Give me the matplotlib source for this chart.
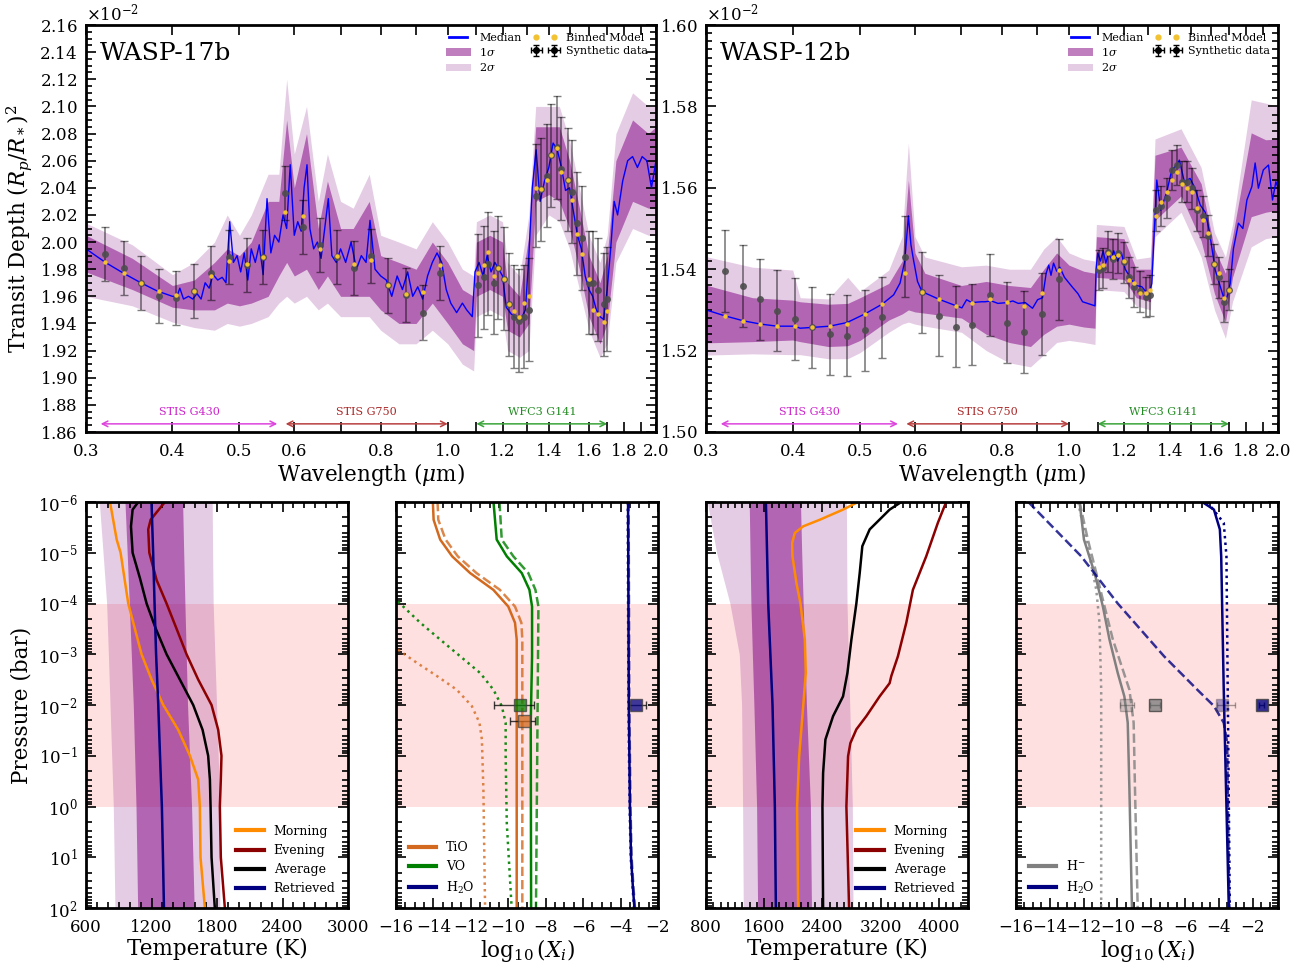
import numpy as np
import matplotlib
matplotlib.use("Agg")
import matplotlib.pyplot as plt
from matplotlib.ticker import (FixedLocator, FixedFormatter, MultipleLocator,
                               ScalarFormatter, NullFormatter)
from matplotlib.lines import Line2D
from matplotlib.patches import Patch

plt.rcParams['font.family'] = ['DejaVu Serif']
plt.rcParams['mathtext.fontset'] = 'dejavuserif'
plt.rcParams['xtick.direction'] = 'in'
plt.rcParams['ytick.direction'] = 'in'

# ---------------- WASP-17b spectrum (transit depth in units of 1e-2) ----------------
w17_wl = [0.300, 0.320, 0.340, 0.360, 0.380, 0.400, 0.406, 0.410, 0.415, 0.422, 0.428, 0.434,
          0.440, 0.446, 0.452, 0.458, 0.465, 0.472, 0.478, 0.484, 0.490, 0.496, 0.502, 0.508,
          0.514, 0.520, 0.527, 0.534, 0.541, 0.548, 0.555, 0.562, 0.570, 0.578, 0.585, 0.592,
          0.600, 0.607, 0.614, 0.620, 0.626, 0.632, 0.640, 0.648, 0.656, 0.664, 0.672, 0.680,
          0.690, 0.700, 0.712, 0.725, 0.738, 0.750, 0.762, 0.772, 0.785, 0.800, 0.815, 0.830,
          0.845, 0.860, 0.875, 0.890, 0.905, 0.920, 0.935, 0.950, 0.965, 0.980, 0.995, 1.010,
          1.030, 1.050, 1.065, 1.085, 1.095, 1.110, 1.125, 1.140, 1.155, 1.170, 1.185, 1.200,
          1.215, 1.235, 1.255, 1.275, 1.295, 1.310, 1.325, 1.342, 1.360, 1.380, 1.400, 1.420,
          1.440, 1.460, 1.480, 1.500, 1.520, 1.540, 1.560, 1.580, 1.600, 1.620, 1.640, 1.660,
          1.680, 1.700, 1.720, 1.740, 1.760, 1.790, 1.820, 1.850, 1.880, 1.910, 1.940, 1.970, 2.000]
w17_med = [1.995, 1.985, 1.977, 1.970, 1.964, 1.960, 1.960, 1.966, 1.958, 1.960, 1.958, 1.962,
           1.958, 1.970, 1.966, 1.976, 1.972, 1.974, 1.970, 2.015, 1.985, 1.990, 1.978, 1.992,
           1.972, 1.995, 1.985, 1.998, 1.976, 2.032, 1.992, 2.005, 2.000, 2.020, 2.010, 2.057,
           2.005, 2.015, 2.008, 2.040, 2.057, 2.010, 1.995, 2.000, 1.988, 2.010, 2.032, 1.990,
           1.985, 1.995, 1.985, 2.000, 1.980, 1.990, 1.985, 2.016, 1.980, 1.975, 1.972, 1.960,
           1.975, 1.965, 1.978, 1.960, 1.967, 1.958, 1.975, 1.985, 1.992, 1.985, 1.965, 1.955,
           1.948, 1.955, 1.950, 1.945, 1.978, 1.985, 1.975, 1.990, 1.978, 1.985, 1.980, 1.975,
           1.952, 1.947, 1.944, 1.943, 1.950, 1.990, 2.040, 2.068, 2.030, 2.045, 2.055, 2.073,
           2.068, 2.055, 2.038, 2.040, 2.022, 2.005, 1.995, 1.975, 1.965, 1.960, 1.950, 1.945,
           1.943, 1.965, 1.995, 2.030, 2.020, 2.045, 2.060, 2.063, 2.055, 2.063, 2.060, 2.040, 2.060]

w17_bwl = [0.30, 0.35, 0.40, 0.43, 0.46, 0.48, 0.50, 0.52, 0.55, 0.57, 0.585, 0.60, 0.625, 0.65,
           0.67, 0.70, 0.73, 0.77, 0.80, 0.85, 0.90, 0.95, 1.00, 1.05, 1.09, 1.10, 1.15, 1.20,
           1.22, 1.27, 1.31, 1.34, 1.40, 1.45, 1.50, 1.55, 1.60, 1.66, 1.70, 1.75, 1.85, 1.95, 2.00]
w17_lo2 = [1.960, 1.953, 1.941, 1.937, 1.935, 1.940, 1.938, 1.940, 1.945, 1.955, 1.960, 1.955, 1.960,
           1.950, 1.955, 1.945, 1.945, 1.945, 1.935, 1.925, 1.925, 1.935, 1.925, 1.910, 1.905, 1.945,
           1.950, 1.945, 1.920, 1.915, 1.920, 2.005, 2.020, 2.015, 1.995, 1.965, 1.935, 1.915, 1.925,
           1.985, 2.010, 2.005, 2.005]
w17_lo1 = [1.978, 1.965, 1.952, 1.950, 1.950, 1.955, 1.953, 1.955, 1.960, 1.975, 1.985, 1.975, 1.980,
           1.965, 1.975, 1.960, 1.960, 1.960, 1.950, 1.940, 1.940, 1.955, 1.940, 1.925, 1.920, 1.960,
           1.965, 1.960, 1.935, 1.930, 1.940, 2.030, 2.035, 2.030, 2.010, 1.980, 1.945, 1.925, 1.940,
           2.000, 2.030, 2.025, 2.025]
w17_hi1 = [2.005, 1.988, 1.968, 1.972, 1.985, 1.995, 1.990, 2.000, 2.030, 2.030, 2.090, 2.040, 2.080,
           2.010, 2.045, 2.010, 2.010, 2.030, 1.990, 1.985, 1.980, 2.000, 1.985, 1.965, 1.960, 2.000,
           2.005, 2.000, 1.970, 1.960, 2.005, 2.085, 2.085, 2.085, 2.060, 2.025, 1.990, 1.970, 1.990,
           2.060, 2.090, 2.080, 2.085]
w17_hi2 = [2.014, 1.998, 1.976, 1.985, 2.000, 2.020, 2.005, 2.020, 2.050, 2.050, 2.120, 2.065, 2.100,
           2.030, 2.065, 2.030, 2.025, 2.050, 2.005, 2.000, 1.995, 2.015, 2.000, 1.980, 1.975, 2.015,
           2.020, 2.015, 1.985, 1.975, 2.020, 2.100, 2.100, 2.100, 2.075, 2.040, 2.005, 1.985, 2.005,
           2.080, 2.110, 2.100, 2.100]

w17_g430_wl = [0.320, 0.3405, 0.3606, 0.3823, 0.405, 0.430, 0.455, 0.483, 0.512, 0.5415]
w17_g430_dat = [1.991, 1.981, 1.970, 1.960, 1.959, 1.964, 1.977, 1.989, 1.983, 1.989]
w17_g430_bin = [1.985, 1.977, 1.970, 1.964, 1.961, 1.964, 1.975, 1.986, 1.984, 1.989]
w17_g430_err = [0.02] * 10
w17_g750_wl = [0.582, 0.617, 0.653, 0.691, 0.732, 0.775, 0.821, 0.870, 0.922, 0.976]
w17_g750_dat = [2.036, 2.011, 1.998, 1.989, 1.981, 1.990, 1.968, 1.961, 1.948, 1.977]
w17_g750_bin = [2.022, 2.019, 1.995, 1.990, 1.984, 1.987, 1.968, 1.962, 1.963, 1.983]
w17_g750_err = [0.02] * 10
w17_wfc3_wl = [1.106, 1.127, 1.145, 1.165, 1.184, 1.204, 1.225, 1.246, 1.268, 1.290, 1.310, 1.342,
               1.366, 1.390, 1.411, 1.437, 1.460, 1.490, 1.510, 1.540, 1.565, 1.600, 1.620, 1.650,
               1.680, 1.700]
w17_wfc3_dat = [1.968, 1.974, 1.984, 1.970, 1.981, 1.973, 1.954, 1.945, 1.942, 1.945, 1.950, 2.034,
                2.039, 2.049, 2.064, 2.070, 2.054, 2.046, 2.037, 2.014, 2.003, 1.970, 1.970, 1.965,
                1.954, 1.958]
w17_wfc3_bin = [1.977, 1.983, 1.993, 1.975, 1.981, 1.973, 1.954, 1.949, 1.945, 1.955, 1.960, 2.040,
                2.039, 2.046, 2.064, 2.069, 2.052, 2.046, 2.031, 2.006, 1.991, 1.973, 1.950, 1.947,
                1.941, 1.949]
w17_wfc3_err = [0.038] * 26

# ---------------- WASP-12b spectrum ----------------
w12_wl = [0.300, 0.320, 0.340, 0.360, 0.380, 0.403, 0.410, 0.427, 0.452, 0.479, 0.508, 0.538,
          0.559, 0.571, 0.580, 0.587, 0.592, 0.597, 0.605, 0.614, 0.650, 0.688, 0.701, 0.712,
          0.724, 0.748, 0.757, 0.773, 0.790, 0.815, 0.830, 0.845, 0.865, 0.886, 0.901, 0.916,
          0.927, 0.935, 0.942, 0.950, 0.960, 0.970, 0.985, 1.010, 1.030, 1.046, 1.090, 1.094,
          1.100, 1.110, 1.120, 1.130, 1.140, 1.150, 1.160, 1.175, 1.190, 1.205, 1.232, 1.250,
          1.273, 1.290, 1.301, 1.316, 1.323, 1.338, 1.356, 1.383, 1.406, 1.430, 1.442, 1.466,
          1.494, 1.519, 1.545, 1.571, 1.592, 1.624, 1.669, 1.685, 1.707, 1.725, 1.754, 1.780,
          1.804, 1.834, 1.854, 1.874, 1.905, 1.938, 1.964, 1.986, 2.000]
w12_med = [1.5300, 1.5285, 1.5273, 1.5265, 1.5260, 1.5260, 1.5255, 1.5257, 1.5260, 1.5269, 1.5290, 1.5314,
           1.5337, 1.5366, 1.5420, 1.5531, 1.5460, 1.5423, 1.5370, 1.5345, 1.5326, 1.5310, 1.5305, 1.5325,
           1.5318, 1.5320, 1.5320, 1.5322, 1.5316, 1.5318, 1.5322, 1.5316, 1.5318, 1.5304, 1.5325, 1.5330,
           1.5390, 1.5410, 1.5385, 1.5415, 1.5395, 1.5405, 1.5380, 1.5357, 1.5340, 1.5320, 1.5310, 1.5400,
           1.5440, 1.5420, 1.5445, 1.5415, 1.5440, 1.5425, 1.5445, 1.5420, 1.5440, 1.5400, 1.5373, 1.5360,
           1.5357, 1.5345, 1.5330, 1.5365, 1.5447, 1.5619, 1.5545, 1.5590, 1.5644, 1.5656, 1.5668, 1.5615,
           1.5623, 1.5599, 1.5558, 1.5540, 1.5496, 1.5398, 1.5332, 1.5324, 1.5365, 1.5450, 1.5513, 1.5500,
           1.5570, 1.5603, 1.5661, 1.5599, 1.5644, 1.5656, 1.5570, 1.5615, 1.5600]

w12_bwl = [0.30, 0.35, 0.40, 0.41, 0.45, 0.48, 0.50, 0.55, 0.575, 0.587, 0.60, 0.62, 0.70, 0.76,
           0.82, 0.88, 0.92, 0.96, 1.00, 1.05, 1.09, 1.095, 1.20, 1.25, 1.31, 1.33, 1.45, 1.55,
           1.62, 1.68, 1.72, 1.83, 1.92, 2.00]
w12_lo2 = [1.5189, 1.5192, 1.5190, 1.5190, 1.5180, 1.5180, 1.5195, 1.5245, 1.5265, 1.5270, 1.5265,
           1.5260, 1.5245, 1.5200, 1.5170, 1.5160, 1.5190, 1.5220, 1.5225, 1.5220, 1.5215, 1.5350,
           1.5345, 1.5310, 1.5300, 1.5480, 1.5540, 1.5430, 1.5300, 1.5230, 1.5320, 1.5455, 1.5475, 1.5480]
w12_lo1 = [1.5219, 1.5222, 1.5226, 1.5222, 1.5210, 1.5212, 1.5225, 1.5275, 1.5290, 1.5300, 1.5295,
           1.5292, 1.5280, 1.5240, 1.5220, 1.5210, 1.5240, 1.5260, 1.5265, 1.5258, 1.5255, 1.5380,
           1.5375, 1.5330, 1.5320, 1.5520, 1.5580, 1.5470, 1.5340, 1.5270, 1.5380, 1.5529, 1.5540, 1.5545]
w12_hi1 = [1.5361, 1.5330, 1.5324, 1.5320, 1.5314, 1.5316, 1.5330, 1.5365, 1.5420, 1.5619, 1.5440,
           1.5390, 1.5360, 1.5370, 1.5360, 1.5355, 1.5400, 1.5440, 1.5410, 1.5395, 1.5390, 1.5480,
           1.5475, 1.5400, 1.5400, 1.5680, 1.5700, 1.5610, 1.5450, 1.5390, 1.5480, 1.5735, 1.5718, 1.5720]
w12_hi2 = [1.5431, 1.5405, 1.5398, 1.5330, 1.5327, 1.5380, 1.5345, 1.5398, 1.5480, 1.5710, 1.5480,
           1.5430, 1.5406, 1.5410, 1.5400, 1.5400, 1.5450, 1.5480, 1.5440, 1.5425, 1.5420, 1.5510,
           1.5505, 1.5425, 1.5430, 1.5720, 1.5745, 1.5650, 1.5490, 1.5430, 1.5510, 1.5816, 1.5808, 1.5800]

w12_g430_wl = [0.3195, 0.3389, 0.359, 0.380, 0.403, 0.427, 0.4523, 0.479, 0.508, 0.5377]
w12_g430_dat = [1.5396, 1.5359, 1.5326, 1.5298, 1.5278, 1.5257, 1.5240, 1.5237, 1.5250, 1.5282]
w12_g430_bin = [1.5285, 1.5273, 1.5265, 1.5260, 1.5260, 1.5257, 1.5260, 1.5265, 1.5290, 1.5314]
w12_g430_err = [0.01] * 10
w12_g750_wl = [0.5805, 0.615, 0.650, 0.688, 0.724, 0.770, 0.815, 0.862, 0.915, 0.968]
w12_g750_dat = [1.5431, 1.5343, 1.5286, 1.5259, 1.5264, 1.5337, 1.5269, 1.5246, 1.5290, 1.5375]
w12_g750_bin = [1.5391, 1.5343, 1.5326, 1.5310, 1.5318, 1.5326, 1.5320, 1.5310, 1.5342, 1.5398]
w12_g750_err = [0.01] * 10
w12_wfc3_wl = [1.103, 1.121, 1.139, 1.158, 1.177, 1.200, 1.220, 1.240, 1.265, 1.290, 1.310, 1.335,
               1.356, 1.383, 1.406, 1.430, 1.455, 1.480, 1.505, 1.530, 1.560, 1.585, 1.620, 1.645,
               1.670, 1.700]
w12_wfc3_dat = [1.5398, 1.5403, 1.5443, 1.5425, 1.5440, 1.5417, 1.5380, 1.5356, 1.5346, 1.5332, 1.5336,
                1.5545, 1.5555, 1.5575, 1.5644, 1.5656, 1.5615, 1.5615, 1.5599, 1.5545, 1.5530, 1.5482,
                1.5413, 1.5380, 1.5320, 1.5350]
w12_wfc3_bin = [1.5406, 1.5410, 1.5440, 1.5430, 1.5435, 1.5420, 1.5373, 1.5365, 1.5342, 1.5342, 1.5348,
                1.5530, 1.5565, 1.5590, 1.5620, 1.5640, 1.5610, 1.5600, 1.5590, 1.5550, 1.5520, 1.5490,
                1.5413, 1.5390, 1.5330, 1.5350]
w12_wfc3_err = [0.005] * 26

instruments = ['STIS G430', 'STIS G750', 'WFC3 G141']
inst_ranges = [(0.315, 0.567), (0.583, 1.0), (1.10, 1.70)]
inst_colors = ['#dd44dd', '#b84040', '#3aa53a']
inst_text_colors = ['#cc22cc', '#a82828', '#228b22']

# ---------------- T-P profiles (log10 P [bar], T [K]) ----------------
tp_band_logp = [-6, -5, -4, -3, -2, 0, 2]
w17_t2lo = [722, 756, 789, 805, 820, 850, 865]
w17_t2hi = [1756, 1760, 1765, 1780, 1796, 1826, 1826]
w17_t1lo = [957, 977, 996, 1015, 1033, 1058, 1073]
w17_t1hi = [1485, 1495, 1506, 1518, 1530, 1567, 1591]
w17_morn_p = [-6, -5.26, -5.0, -4.0, -3.5, -3.0, -2.5, -2.0, -1.51, -1.0, -0.53, 0.0, 1.0, 2.0]
w17_morn_t = [820, 881, 917, 987, 1048, 1109, 1201, 1308, 1445, 1552, 1628, 1643, 1649, 1689]
w17_even_p = [-6, -5.65, -5.46, -5.0, -4.46, -4.0, -3.5, -3.0, -2.5, -2.0, -1.51, -1.0, -0.53, 0, 1, 2]
w17_even_t = [1323, 1192, 1170, 1180, 1247, 1338, 1430, 1521, 1628, 1750, 1811, 1841, 1835, 1826, 1835, 1872]
w17_avg_p = [-6, -5.85, -5.52, -5.0, -4.5, -4.0, -3.5, -3.0, -2.5, -2.0, -1.51, -1.0, -0.53, 0, 1, 2]
w17_avg_t = [1079, 1027, 1012, 1027, 1094, 1155, 1240, 1338, 1460, 1582, 1668, 1719, 1735, 1741, 1750, 1780]
w17_ret_p = [-6, -5, -4, -3, -2, -1, 0, 1, 2]
w17_ret_t = [1200, 1215, 1228, 1242, 1262, 1278, 1295, 1305, 1314]

w12_t2lo = [818, 946, 1129, 1257, 1289, 1303, 1312]
w12_t2hi = [2729, 2733, 2738, 2755, 2775, 2811, 2820]
w12_t1lo = [1394, 1405, 1417, 1437, 1458, 1495, 1509]
w12_t1hi = [2098, 2115, 2135, 2158, 2180, 2235, 2249]
w12_morn_p = [-6, -5.85, -5.65, -5.52, -5.39, -5.19, -4.93, -4.4, -4.0, -3.29, -2.63, -1.97, -0.99, 0, 2]
w12_morn_t = [2889, 2683, 2363, 2135, 2020, 1984, 1988, 2043, 2098, 2158, 2171, 2135, 2080, 2052, 2066]
w12_even_p = [-6, -5.59, -4.93, -4.27, -3.62, -2.96, -2.57, -2.43, -2.17, -1.78, -1.52, -1.25, -0.99, 0, 2]
w12_even_t = [4100, 3986, 3826, 3643, 3552, 3437, 3346, 3323, 3186, 3003, 2866, 2784, 2752, 2729, 2766]
w12_avg_p = [-6, -5.85, -5.72, -5.46, -5.13, -4.6, -4.0, -3.29, -2.63, -2.17, -1.78, -1.32, -0.66, 0, 2]
w12_avg_t = [3483, 3323, 3232, 3049, 2948, 2912, 2866, 2798, 2743, 2683, 2546, 2441, 2409, 2400, 2409]
w12_ret_p = [-6, -4, -2, 0, 2]
w12_ret_t = [1623, 1655, 1714, 1746, 1760]

# ---------------- abundances (log10 P, log10 X) ----------------
tio_p = [-6, -5.65, -5.26, -4.93, -4.60, -4.27, -3.94, -3.62, -3.29, 2]
tio_x = [-14.03, -13.99, -13.64, -13.0, -12.04, -10.8, -10.0, -9.64, -9.55, -9.55]
tio_dash_p = [-6, -5.65, -5.26, -4.93, -4.60, -4.27, -3.94, -3.62, -3.29, 2]
tio_dash_x = [-13.78, -13.74, -13.35, -12.70, -11.70, -10.45, -9.64, -9.30, -9.25, -9.25]
tio_dot_p = [-3.09, -2.83, -2.57, -2.30, -1.98, -1.65, -1.32, -0.33, 2]
tio_dot_x = [-15.9, -14.88, -13.81, -12.75, -11.95, -11.54, -11.41, -11.33, -11.24]
vo_p = [-6, -5.26, -4.93, -4.60, -4.27, -3.94, -2.96, -1.65, 2]
vo_x = [-10.79, -10.62, -10.08, -9.28, -8.87, -8.73, -8.73, -8.80, -8.78]
vo_dash_p = [-6, -5.26, -4.93, -4.60, -4.27, -3.94, 2]
vo_dash_x = [-10.47, -10.35, -9.73, -8.93, -8.55, -8.39, -8.52]
vo_dot_p = [-4.04, -3.62, -3.29, -2.96, -2.63, -2.30, -1.98, -1.65, -0.99, 0.33, 2]
vo_dot_x = [-15.9, -14.7, -13.64, -12.57, -11.5, -10.79, -10.35, -10.14, -10.14, -10.08, -9.82]
h2o17_p = [-6, -2, 0, 1, 1.6, 2]
h2o17_x = [-3.60, -3.56, -3.50, -3.44, -3.34, -3.26]
h2o17_dash_x = [-3.57, -3.53, -3.47, -3.41, -3.31, -3.23]
h2o17_dot_x = [-3.62, -3.58, -3.52, -3.46, -3.36, -3.28]
# retrieved values at the photosphere: (x, P, -err, +err)
ret17_vo = (-9.37, 1e-2, 1.42, 0.74)
ret17_tio = (-9.14, 2.05e-2, 0.76, 0.57)
ret17_h2o = (-3.19, 1e-2, 0.35, 0.53)

hm_p = [-6, -5.26, -4.60, -3.94, -3.29, -2.63, -2.17, -1.65, -0.33, 2]
hm_x = [-12.24, -11.98, -11.35, -10.86, -10.47, -9.98, -9.59, -9.39, -9.29, -9.14]
hm_dash_p = [-6, -5.26, -4.60, -3.94, -3.29, -2.30, -1.65, -0.33, 2]
hm_dash_x = [-12.24, -11.75, -11.25, -10.76, -10.27, -9.29, -9.04, -8.96, -8.80]
hm_dot_p = [-6, -4.93, -4.27, -3.62, -2.30, 2]
hm_dot_x = [-12.33, -11.65, -11.25, -11.06, -10.96, -10.96]
h2o12_p = [-6, -5.85, -5.46, -4.93, -2.30, 2]
h2o12_x = [-4.98, -4.29, -3.94, -3.86, -3.71, -3.41]
h2o12_dot_p = [-6, -5.59, -4.93, 2]
h2o12_dot_x = [-4.69, -3.71, -3.55, -3.35]
h2o12_dash_p = [-6, -4.93, -4.0, -2.96, -2.30, -1.98, -1.65, -1.26, 2]
h2o12_dash_x = [-15.27, -12.14, -9.98, -7.24, -5.27, -4.29, -3.71, -3.51, -3.38]
ret12_hm = [(-9.49, 1e-2, 0.33, 0.49, 0.35), (-7.78, 1e-2, 0.3, 0.3, 0.8)]
ret12_h2o = [(-3.80, 1e-2, 0.30, 0.75, 0.35), (-1.45, 1e-2, 0.15, 0.15, 0.8)]

# ---------------- figure ----------------
fig = plt.figure(figsize=(13.15, 9.65), dpi=100)
W, H = 1315.0, 965.0


def px_axes(x0, x1, y0, y1):
    return fig.add_axes([x0 / W, 1 - y1 / H, (x1 - x0) / W, (y1 - y0) / H])


def style(ax):
    for s in ax.spines.values():
        s.set_linewidth(2)
    ax.tick_params(which='both', top=True, right=True, width=1.2)
    ax.tick_params(which='major', length=7, labelsize=12)
    ax.tick_params(which='minor', length=4)
    ax.tick_params(axis='x', which='major', pad=8)
    ax.tick_params(axis='y', which='major', pad=6)


def spectrum(ax, wl, med, bwl, lo2, lo1, hi1, hi2, sets, name, ylim, yminor, ylab):
    s = 1e-2
    ax.fill_between(bwl, np.array(lo2) * s, np.array(hi2) * s, color='purple', alpha=0.2, lw=0)
    ax.fill_between(bwl, np.array(lo1) * s, np.array(hi1) * s, color='purple', alpha=0.5, lw=0)
    ax.plot(wl, np.array(med) * s, color='blue', lw=1)
    for w, d, b, e in sets:
        ax.errorbar(w, np.array(d) * s, yerr=np.array(e) * s, fmt='none', ecolor='k',
                    elinewidth=1.2, capsize=3, capthick=1, alpha=0.5)
        ax.plot(w, np.array(d) * s, 'o', color='0.3', ms=5, mec='none', alpha=0.9)
        ax.plot(w, np.array(b) * s, 'o', color='#f2c230', ms=3.2, mec='none', zorder=6)
    ax.set_xscale('log')
    ax.set_xlim(0.3, 2.0)
    ax.set_ylim(ylim[0] * s, ylim[1] * s)
    ticks = [round(0.3 + 0.1 * i, 1) for i in range(18)]
    shown = [0.3, 0.4, 0.5, 0.6, 0.8, 1.0, 1.2, 1.4, 1.6, 1.8, 2.0]
    labels = ['%.1f' % t if t in shown else '' for t in ticks]
    ax.xaxis.set_major_locator(FixedLocator(ticks))
    ax.xaxis.set_major_formatter(FixedFormatter(labels))
    ax.xaxis.set_minor_formatter(NullFormatter())
    ax.xaxis.set_minor_locator(FixedLocator([]))
    ax.yaxis.set_major_locator(MultipleLocator(0.02 * s))
    ax.yaxis.set_minor_locator(MultipleLocator(yminor * s))
    fmt = ScalarFormatter(useMathText=True)
    fmt.set_powerlimits((0, 0))
    ax.yaxis.set_major_formatter(fmt)
    ax.yaxis.get_offset_text().set_fontsize(12)
    style(ax)
    ax.set_xlabel(r'Wavelength ($\mu$m)', fontsize=15.5, labelpad=1)
    if ylab:
        ax.set_ylabel(r'Transit Depth $(R_p/R_*)^2$', fontsize=15.5)
    ax.text(0.025, 0.93, name, transform=ax.transAxes, fontsize=18, va='center')
    y0, y1 = ax.get_ylim()
    for lab, (a, b), c, tc in zip(instruments, inst_ranges, inst_colors, inst_text_colors):
        ya = y0 + 0.02 * (y1 - y0)
        ax.annotate('', xy=(b, ya), xytext=(a, ya),
                    arrowprops=dict(arrowstyle='<->', color=c, lw=1.1, shrinkA=0, shrinkB=0))
        ax.text(np.sqrt(a * b), y0 + 0.05 * (y1 - y0), lab, color=tc, fontsize=8,
                ha='center', va='center')
    hs = [Line2D([], [], color='blue', lw=2),
          Patch(color='purple', alpha=0.5, lw=0),
          Patch(color='purple', alpha=0.2, lw=0),
          Line2D([], [], ls='none', marker='o', color='#f2c230', ms=3.5),
          ax.errorbar([np.nan], [np.nan], xerr=1, yerr=1, fmt='o', color='k', ms=4,
                      capsize=2, elinewidth=1)]
    ax.legend(hs, ['Median', r'1$\sigma$', r'2$\sigma$', 'Binned Model', 'Synthetic data'],
              ncol=2, loc='upper right', frameon=False, fontsize=8, numpoints=2,
              handlelength=2.2, columnspacing=1.0, borderaxespad=0.3, labelspacing=0.3)


ax1 = px_axes(86, 656, 25, 432)
spectrum(ax1, w17_wl, w17_med, w17_bwl, w17_lo2, w17_lo1, w17_hi1, w17_hi2,
         [(w17_g430_wl, w17_g430_dat, w17_g430_bin, w17_g430_err),
          (w17_g750_wl, w17_g750_dat, w17_g750_bin, w17_g750_err),
          (w17_wfc3_wl, w17_wfc3_dat, w17_wfc3_bin, w17_wfc3_err)],
         'WASP-17b', (1.86, 2.16), 0.005, True)
ax2 = px_axes(706, 1278, 25, 432)
spectrum(ax2, w12_wl, w12_med, w12_bwl, w12_lo2, w12_lo1, w12_hi1, w12_hi2,
         [(w12_g430_wl, w12_g430_dat, w12_g430_bin, w12_g430_err),
          (w12_g750_wl, w12_g750_dat, w12_g750_bin, w12_g750_err),
          (w12_wfc3_wl, w12_wfc3_dat, w12_wfc3_bin, w12_wfc3_err)],
         'WASP-12b', (1.50, 1.60), 0.002, False)


def pressure_axis(ax, left):
    ax.axhspan(1e-4, 1.0, color='red', alpha=0.12, lw=0, zorder=0)
    ax.set_yscale('log')
    ax.set_ylim(1e2, 1e-6)
    style(ax)
    if left:
        ax.set_ylabel('Pressure (bar)', fontsize=15.5)
    else:
        ax.tick_params(which='both', labelleft=False)


def tp_panel(ax, t2lo, t2hi, t1lo, t1hi, curves, xlim, xticks):
    pb = 10 ** np.array(tp_band_logp, dtype=float)
    ax.fill_betweenx(pb, t2lo, t2hi, color='purple', alpha=0.2, lw=0)
    ax.fill_betweenx(pb, t1lo, t1hi, color='purple', alpha=0.5, lw=0)
    for p, t, c, lab in curves:
        ax.plot(t, 10 ** np.array(p, dtype=float), color=c, lw=1.8, label=lab)
    ax.set_xlim(*xlim)
    ax.set_xticks(xticks)
    ax.xaxis.set_minor_locator(MultipleLocator(100))
    ax.set_xlabel('Temperature (K)', fontsize=15.5, labelpad=1)
    leg = ax.legend(loc='lower right', frameon=False, fontsize=9, handlelength=2.2,
                    labelspacing=0.5, borderaxespad=0.6)
    for h in leg.legend_handles:
        h.set_linewidth(3)


def ab_panel(ax, xlim, loc):
    ax.set_xlim(*xlim)
    ax.set_xticks(range(-16, -1, 2))
    ax.xaxis.set_minor_locator(MultipleLocator(0.5))
    ax.set_xlabel(r'$\log_{10}(X_i)$', fontsize=15.5, labelpad=1)
    leg = ax.legend(loc=loc, frameon=False, fontsize=9, handlelength=2.2,
                    labelspacing=0.5, borderaxespad=0.6)
    for h in leg.legend_handles:
        h.set_linewidth(3)


def lp(v):
    return 10 ** np.array(v, dtype=float)


# WASP-17b T-P
ax3 = px_axes(86, 348, 502, 908)
pressure_axis(ax3, True)
tp_panel(ax3, w17_t2lo, w17_t2hi, w17_t1lo, w17_t1hi,
         [(w17_morn_p, w17_morn_t, 'darkorange', 'Morning'),
          (w17_even_p, w17_even_t, 'darkred', 'Evening'),
          (w17_avg_p, w17_avg_t, 'k', 'Average'),
          (w17_ret_p, w17_ret_t, 'navy', 'Retrieved')],
         (600, 3000), [600, 1200, 1800, 2400, 3000])

# WASP-17b abundances
ax4 = px_axes(396, 658, 502, 908)
pressure_axis(ax4, False)
ax4.plot(tio_x, lp(tio_p), color='chocolate', lw=1.8, label='TiO')
ax4.plot(tio_dash_x, lp(tio_dash_p), color='chocolate', lw=1.8, ls='--', alpha=0.8)
ax4.plot(tio_dot_x, lp(tio_dot_p), color='chocolate', lw=1.8, ls=':', alpha=0.8)
ax4.plot(vo_x, lp(vo_p), color='green', lw=1.8, label='VO')
ax4.plot(vo_dash_x, lp(vo_dash_p), color='green', lw=1.8, ls='--', alpha=0.8)
ax4.plot(vo_dot_x, lp(vo_dot_p), color='green', lw=1.8, ls=':', alpha=0.9)
ax4.plot(h2o17_x, lp(h2o17_p), color='navy', lw=1.8, label=r'H$_2$O')
ax4.plot(h2o17_dash_x, lp(h2o17_p), color='navy', lw=1.8, ls='--', alpha=0.6)
ax4.plot(h2o17_dot_x, lp(h2o17_p), color='navy', lw=1.8, ls=':', alpha=0.8)
for (x, p, el, eh), c in zip([ret17_vo, ret17_tio, ret17_h2o], ['green', 'chocolate', 'navy']):
    ax4.errorbar([x], [p], xerr=[[el], [eh]], fmt='s', ms=9, mfc=c, mec='0.25', alpha=0.75,
                 ecolor='k', elinewidth=1, capsize=3, zorder=6)
ab_panel(ax4, (-16, -2), 'lower left')

# WASP-12b T-P
ax5 = px_axes(706, 968, 502, 908)
pressure_axis(ax5, False)
tp_panel(ax5, w12_t2lo, w12_t2hi, w12_t1lo, w12_t1hi,
         [(w12_morn_p, w12_morn_t, 'darkorange', 'Morning'),
          (w12_even_p, w12_even_t, 'darkred', 'Evening'),
          (w12_avg_p, w12_avg_t, 'k', 'Average'),
          (w12_ret_p, w12_ret_t, 'navy', 'Retrieved')],
         (800, 4400), [800, 1600, 2400, 3200, 4000])

# WASP-12b abundances
ax6 = px_axes(1016, 1278, 502, 908)
pressure_axis(ax6, False)
ax6.plot(hm_x, lp(hm_p), color='gray', lw=1.8, label=r'H$^{-}$')
ax6.plot(hm_dash_x, lp(hm_dash_p), color='gray', lw=1.8, ls='--', alpha=0.8)
ax6.plot(hm_dot_x, lp(hm_dot_p), color='gray', lw=1.8, ls=':', alpha=0.8)
ax6.plot(h2o12_x, lp(h2o12_p), color='navy', lw=1.8, label=r'H$_2$O')
ax6.plot(h2o12_dot_x, lp(h2o12_dot_p), color='navy', lw=1.8, ls=':')
ax6.plot(h2o12_dash_x, lp(h2o12_dash_p), color='navy', lw=1.8, ls='--', alpha=0.8)
for group, c in [(ret12_hm, 'gray'), (ret12_h2o, 'navy')]:
    for x, p, el, eh, a in group:
        ax6.errorbar([x], [p], xerr=[[el], [eh]], fmt='s', ms=8, mfc=c, mec='0.25', alpha=a,
                     ecolor='k', elinewidth=1, capsize=2, zorder=6)
ab_panel(ax6, (-16, -0.5), 'lower left')

fig.savefig('out.png', dpi=100)
